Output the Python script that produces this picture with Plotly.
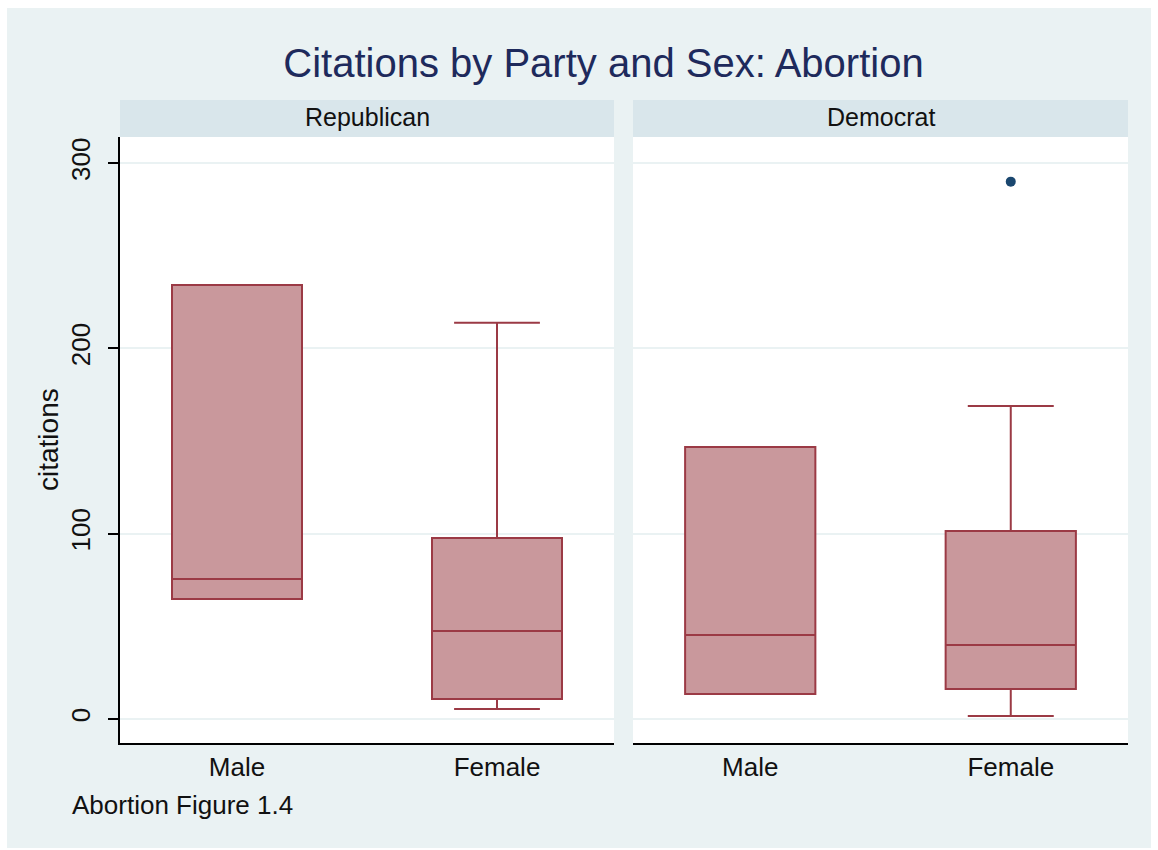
import plotly.graph_objects as go

# ---- data ----
sexes = ["Male", "Female"]
parties = ["Republican", "Democrat"]

rep_q1 = [64.8, 10.8]
rep_median = [75.5, 47.5]
rep_q3 = [234.2, 97.7]
rep_lower = [64.8, 5.4]
rep_upper = [234.2, 213.9]

dem_q1 = [13.5, 16.2]
dem_median = [45.3, 39.9]
dem_q3 = [146.8, 101.5]
dem_lower = [13.5, 1.6]
dem_upper = [146.8, 168.9]

outlier_sex = ["Female"]
outlier_y = [290.0]

y_ticks = [0, 100, 200, 300]

title_text = "Citations by Party and Sex: Abortion"
y_title = "citations"
note_text = "Abortion Figure 1.4"

# ---- styling ----
W, H = 1158, 850
FONT = "Arial, Liberation Sans, sans-serif"
BG = "#eaf2f3"
HEADER = "#d9e6eb"
BOX_FILL = "#c9989c"
BOX_LINE = "#9b3a45"
NAVY = "#1a476f"

def px_x(p):
    return p / W

def px_y(p):
    return 1 - p / H

fig = go.Figure()

stats = {
    "Republican": (rep_q1, rep_median, rep_q3, rep_lower, rep_upper, "x", "y"),
    "Democrat": (dem_q1, dem_median, dem_q3, dem_lower, dem_upper, "x2", "y2"),
}
for party in parties:
    q1, med, q3, lo, up, xa, ya = stats[party]
    fig.add_trace(go.Box(
        x=sexes, q1=q1, median=med, q3=q3, lowerfence=lo, upperfence=up,
        width=0.5, whiskerwidth=0.66,
        fillcolor=BOX_FILL, line=dict(color=BOX_LINE, width=2),
        boxpoints=False, showlegend=False, xaxis=xa, yaxis=ya, name=party,
    ))

fig.add_trace(go.Scatter(
    x=outlier_sex, y=outlier_y, mode="markers",
    marker=dict(color=NAVY, size=10, line=dict(width=0)),
    showlegend=False, xaxis="x2", yaxis="y2",
))

yrange = [-12.95, 314.1]
xrange = [-0.45, 1.45]

common_x = dict(
    type="category", categoryorder="array", categoryarray=sexes,
    range=xrange, showgrid=False, zeroline=False,
    showline=True, linecolor="black", linewidth=2,
    ticks="", tickfont=dict(family=FONT, size=26, color="#111111"),
)

fig.update_layout(
    width=W, height=H,
    margin=dict(l=0, r=0, t=0, b=0),
    paper_bgcolor="white",
    plot_bgcolor="white",
    font=dict(family=FONT),
    xaxis=dict(**common_x, anchor="y", domain=[px_x(120), px_x(614)]),
    xaxis2=dict(**common_x, anchor="y2", domain=[px_x(633), px_x(1128)]),
    yaxis=dict(
        domain=[px_y(743), px_y(137)], range=yrange,
        tickvals=y_ticks, ticktext=[str(v) for v in y_ticks],
        tickangle=-90, ticks="outside", ticklen=10, tickcolor="black", tickwidth=2,
        ticklabelstandoff=8,
        tickfont=dict(family=FONT, size=26, color="#111111"),
        showline=True, linecolor="black", linewidth=2,
        showgrid=True, gridcolor=BG, gridwidth=2, zeroline=False,
        anchor="x",
    ),
    yaxis2=dict(
        domain=[px_y(743), px_y(137)], range=yrange,
        tickvals=y_ticks, showticklabels=False, ticks="",
        showline=False, showgrid=True, gridcolor=BG, gridwidth=2, zeroline=False,
        anchor="x2",
    ),
    title=dict(
        text=title_text, x=px_x(603.5), xanchor="center", xref="paper",
        y=px_y(63), yanchor="middle", yref="paper",
        font=dict(family=FONT, size=40, color="#1e2a5c"),
    ),
)

shapes = [
    dict(type="rect", xref="paper", yref="paper", x0=px_x(7), x1=px_x(1151),
         y0=px_y(848), y1=px_y(8), fillcolor=BG, line=dict(width=0), layer="below"),
    # white plot regions
    dict(type="rect", xref="paper", yref="paper", x0=px_x(120), x1=px_x(614),
         y0=px_y(743), y1=px_y(137), fillcolor="white", line=dict(width=0), layer="below"),
    dict(type="rect", xref="paper", yref="paper", x0=px_x(633), x1=px_x(1128),
         y0=px_y(743), y1=px_y(137), fillcolor="white", line=dict(width=0), layer="below"),
    # facet headers
    dict(type="rect", xref="paper", yref="paper", x0=px_x(120), x1=px_x(614),
         y0=px_y(137), y1=px_y(100), fillcolor=HEADER, line=dict(width=0), layer="below"),
    dict(type="rect", xref="paper", yref="paper", x0=px_x(633), x1=px_x(1128),
         y0=px_y(137), y1=px_y(100), fillcolor=HEADER, line=dict(width=0), layer="below"),
]
fig.update_layout(shapes=shapes)

annotations = [
    dict(text=parties[0], x=px_x(367), y=px_y(117), xref="paper", yref="paper",
         showarrow=False, xanchor="center", yanchor="middle",
         font=dict(family=FONT, size=25, color="#111111")),
    dict(text=parties[1], x=px_x(880.5), y=px_y(117), xref="paper", yref="paper",
         showarrow=False, xanchor="center", yanchor="middle",
         font=dict(family=FONT, size=25, color="#111111")),
    dict(text=y_title, x=px_x(48), y=px_y(440), xref="paper", yref="paper",
         showarrow=False, xanchor="center", yanchor="middle", textangle=-90,
         font=dict(family=FONT, size=28, color="#111111")),
    dict(text=note_text, x=px_x(70), y=px_y(805), xref="paper", yref="paper",
         showarrow=False, xanchor="left", yanchor="middle",
         font=dict(family=FONT, size=26, color="#111111")),
]
fig.update_layout(annotations=annotations)

fig.write_html("out.html")
